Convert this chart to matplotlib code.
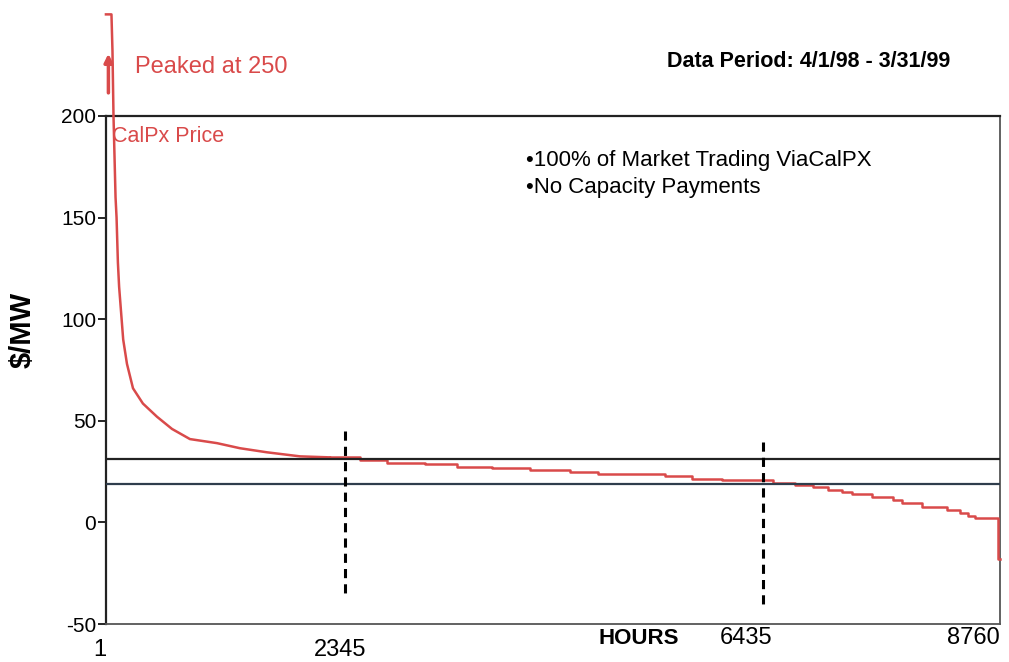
import matplotlib.pyplot as plt
from matplotlib.transforms import blended_transform_factory

plt.rcParams['font.family'] = ['Liberation Sans', 'DejaVu Sans']

# price duration curve (hour rank, $/MW)
# steep head of the curve
head_hours = [1, 55, 65, 75, 85, 95, 105, 118, 130, 150, 170, 207, 266, 363,
              501, 648, 824, 1089, 1314, 1578, 1902, 2196]
head_prices = [250, 250, 232, 200, 180, 160, 150, 128, 116, 103, 90, 78, 66,
               58.5, 52, 46, 41, 39, 36.5, 34.5, 32.5, 32]
# flat, stepped tail
tail_hours = [2196, 2490, 2754, 3127, 3440, 3783, 4155, 4547, 4822, 5184,
              5478, 5743, 6037, 6340, 6536, 6752, 6928, 7075, 7212, 7310,
              7506, 7712, 7800, 7996, 8241, 8368, 8447, 8515, 8745, 8760]
tail_prices = [32, 30.5, 29, 28.5, 27.5, 26.6, 26, 25, 24, 23.6, 22.6, 21.6,
               21, 20.7, 19.2, 18.2, 17.2, 15.7, 14.8, 13.8, 12.3, 10.8, 9.4,
               7.4, 5.9, 4.4, 3, 2, -18, -18]

ref_levels = [31, 19]
ref_colors = ['#222222', '#2f3d4c']
split_hours = [2345, 6435]
split_spans = [(45, -34.5), (39.5, -40)]
x_labels = ['1', '2345', '6435', '8760']
y_ticks = [-50, 0, 50, 100, 150, 200]

red = '#d94a4a'

fig = plt.figure(figsize=(10.09, 6.62), dpi=100)
ax = fig.add_axes([0.105, 0.0574, 0.886, 0.7674])

ax.plot(head_hours, head_prices, color=red, lw=1.8, clip_on=False, zorder=3)
ax.plot(tail_hours, tail_prices, drawstyle='steps-post', color=red, lw=1.8,
        clip_on=False, zorder=3)

for lvl, c in zip(ref_levels, ref_colors):
    ax.axhline(lvl, color=c, lw=1.6, zorder=4)

for h, (y0, y1) in zip(split_hours, split_spans):
    ax.plot([h, h], [y0, y1], color='black', lw=2.2, ls=(0, (3, 2)), zorder=5)

ax.set_xlim(1, 8760)
ax.set_ylim(-50, 200)
ax.set_yticks(y_ticks)
ax.set_yticklabels([str(v) for v in y_ticks], fontsize=15)
ax.set_xticks([])
ax.tick_params(axis='y', direction='out', length=6, width=1.2, pad=1)

for side in ['left', 'top']:
    ax.spines[side].set_color('#222222')
    ax.spines[side].set_linewidth(1.6)
for side in ['right', 'bottom']:
    ax.spines[side].set_color('#555555')
    ax.spines[side].set_linewidth(1.3)

ax.set_ylabel('$/MW', fontsize=21, fontweight='bold')
ax.yaxis.set_label_coords(-0.078, 0.579)

# x labels sit below the axis at uneven heights, as in the source
trans = blended_transform_factory(ax.transData, fig.transFigure)
ax.text(1, 1 - 650 / 662, x_labels[0], transform=trans, ha='right',
        va='center', fontsize=17)
ax.text(2300, 1 - 650 / 662, x_labels[1], transform=trans, ha='center',
        va='center', fontsize=17)
ax.text(6270, 1 - 638 / 662, x_labels[2], transform=trans, ha='center',
        va='center', fontsize=17)
ax.text(8760, 1 - 638 / 662, x_labels[3], transform=trans, ha='right',
        va='center', fontsize=17)
ax.text(5220, 1 - 638 / 662, 'HOURS', transform=trans, ha='center',
        va='center', fontsize=16, fontweight='bold')

ax.annotate('', xy=(25, 232), xytext=(25, 210), annotation_clip=False,
            arrowprops=dict(arrowstyle='-|>', color=red, lw=2.5,
                            mutation_scale=12))
ax.text(285, 224, 'Peaked at 250', color=red, fontsize=17, va='center',
        clip_on=False)
ax.text(60, 190, 'CalPx Price', color=red, fontsize=15.5, va='center')

ax.text(5500, 227, 'Data Period: 4/1/98 - 3/31/99', fontsize=15.5,
        fontweight='bold', va='center', clip_on=False)
ax.text(4120, 178, '\u2022100% of Market Trading ViaCalPX', fontsize=16,
        va='center')
ax.text(4120, 165, '\u2022No Capacity Payments', fontsize=16, va='center')

fig.savefig('out.png', dpi=100)
